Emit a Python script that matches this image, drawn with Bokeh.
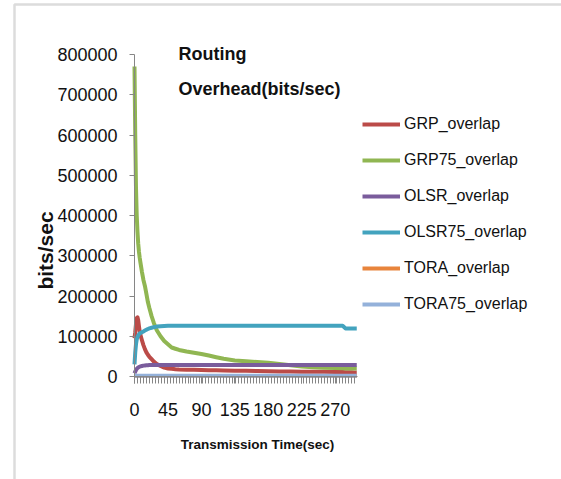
from bokeh.plotting import figure
from bokeh.models import (FixedTicker, NumeralTickFormatter, Legend, LegendItem,
                          Label, BoxAnnotation, Range1d)
from bokeh.embed import file_html
from bokeh.resources import INLINE

# ---- data ----
t = [0, 1, 2, 3, 4, 5, 6, 7, 8, 10, 12, 14, 16, 18, 20, 23, 26, 30, 35, 40, 45, 50,
     55, 60, 70, 80, 90, 100, 110, 120, 135, 150, 165, 180, 195, 210, 225, 240, 255,
     270, 280, 284, 288, 292, 296, 299]

grp = [95000, 110000, 130000, 145000, 147000, 140000, 125000, 112000, 103000, 90000,
       78000, 68000, 60000, 54000, 49000, 43000, 37000, 31000, 26000, 22000, 20000,
       19000, 18000, 17500, 17000, 16500, 16000, 15500, 15500, 15000, 14500, 14000,
       13500, 13000, 12500, 12500, 12000, 12000, 11500, 11000, 11000, 10500, 10500,
       10500, 10000, 10000]

grp75 = [770000, 600000, 470000, 400000, 360000, 330000, 310000, 295000, 283000,
         260000, 240000, 225000, 205000, 185000, 170000, 150000, 133000, 115000,
         100000, 88000, 80000, 72000, 69000, 66000, 62000, 59000, 56000, 52000, 48000,
         44000, 40000, 38000, 36000, 34000, 31000, 28000, 25000, 23000, 22000, 21000,
         20500, 20000, 20000, 20000, 20000, 20000]

olsr = [8000, 12000, 16000, 19000, 21000, 22500, 23500, 24500, 25000, 26000, 27000,
        27500, 28000, 28000, 28500, 28500, 28500, 28500, 28500, 28500, 28500, 28500,
        28500, 28500, 28500, 28500, 28500, 28500, 28500, 28500, 28500, 28500, 28500,
        28500, 28500, 28500, 28500, 28500, 28500, 28500, 28500, 28500, 28500, 28500,
        28500, 28500]

olsr75 = [30000, 60000, 80000, 92000, 98000, 102000, 105000, 107000, 108000, 110000,
          112000, 114000, 116000, 118000, 119500, 121000, 122500, 124000, 125000,
          125500, 126000, 126000, 126000, 126000, 126000, 126000, 126000, 126000,
          126000, 126000, 126000, 126000, 126000, 126000, 126000, 126000, 126000,
          126000, 126000, 126000, 126000, 119500, 119000, 119000, 119000, 119000]

tora = [1000] * len(t)
tora75 = [2000] * len(t)

series_names = ["GRP_overlap", "GRP75_overlap", "OLSR_overlap", "OLSR75_overlap",
                "TORA_overlap", "TORA75_overlap"]
series_values = [grp, grp75, olsr, olsr75, tora, tora75]
series_colors = ["#BB4B48", "#90B652", "#7A5C9C", "#43A3BE", "#E8843C", "#94B1DA"]

x_tick_values = [0, 45, 90, 135, 180, 225, 270]
y_tick_values = [0, 100000, 200000, 300000, 400000, 500000, 600000, 700000, 800000]

FONT = "Liberation Sans"
TEXT = "#111111"

# ---- layout: frame covers the whole canvas, axes sit at x=0 / y=0 ----
W, H = 561, 479
X0_PX, X_PX_PER = 134, 223 / 300.0       # page x of t=0, pixels per second
Y0_PX, Y_PX_PER = 376, 322 / 800000.0    # page y of 0, pixels per bit/s


def dx(px):
    return (px - X0_PX) / X_PX_PER


def dy(py):
    return (Y0_PX - py) / Y_PX_PER


p = figure(width=W, height=H, output_backend="svg", toolbar_location=None,
           x_range=Range1d(dx(0), dx(W)), y_range=Range1d(dy(H), dy(0)),
           min_border=0)
p.outline_line_color = None
p.grid.visible = False
p.background_fill_color = "white"
p.border_fill_color = "white"

# outer frame of the picture (only top and left edges are visible)
p.add_layout(BoxAnnotation(left=dx(14), right=dx(W + 50), top=dy(4), bottom=dy(H + 50),
                           fill_alpha=0, line_color="#8C8C8C", line_width=2.5,
                           level="underlay"))

items = []
for name, vals, col in zip(series_names, series_values, series_colors):
    r = p.line(t, vals, line_color=col, line_width=4, line_join="round")
    items.append(LegendItem(label=name, renderers=[r]))

# axes
axis_gray = "#868686"
xa = p.xaxis[0]
xa.fixed_location = 0
xa.bounds = (0, 300)
xa.ticker = FixedTicker(ticks=x_tick_values, minor_ticks=list(range(0, 300, 4)))
xa.axis_line_color = axis_gray
xa.major_tick_line_color = axis_gray
xa.minor_tick_line_color = axis_gray
xa.major_tick_in = 0
xa.major_tick_out = 7
xa.minor_tick_in = 0
xa.minor_tick_out = 7
xa.major_label_standoff = 19
xa.major_label_text_font = FONT
xa.major_label_text_font_size = "18px"
xa.major_label_text_color = TEXT

ya = p.yaxis[0]
ya.fixed_location = 0
ya.bounds = (0, 800000)
ya.ticker = FixedTicker(ticks=y_tick_values)
ya.formatter = NumeralTickFormatter(format="0")
ya.axis_line_color = axis_gray
ya.major_tick_line_color = axis_gray
ya.minor_tick_line_color = None
ya.major_tick_in = 0
ya.major_tick_out = 5
ya.major_label_standoff = 12
ya.major_label_text_font = FONT
ya.major_label_text_font_size = "18px"
ya.major_label_text_color = TEXT

# legend (location measured from the bottom-left of the canvas)
legend = Legend(items=items, location=(362, H - 322), orientation="vertical",
                border_line_color=None, background_fill_alpha=0,
                padding=0, margin=0, spacing=0, glyph_width=38, glyph_height=36,
                label_height=36, label_standoff=4,
                label_text_font=FONT, label_text_font_size="16px",
                label_text_color=TEXT)
p.add_layout(legend, "center")

# texts
p.add_layout(Label(x=dx(178), y=dy(53), text="Routing", text_font=FONT,
                   text_font_style="bold", text_font_size="18px", text_color=TEXT,
                   text_baseline="middle", text_align="left"))
p.add_layout(Label(x=dx(178), y=dy(88), text="Overhead(bits/sec)", text_font=FONT,
                   text_font_style="bold", text_font_size="18px", text_color=TEXT,
                   text_baseline="middle", text_align="left"))
p.add_layout(Label(x=dx(45), y=dy(250), text="bits/sec", text_font=FONT,
                   text_font_style="bold", text_font_size="21px", angle=1.5708,
                   text_color=TEXT, text_baseline="middle", text_align="center"))
p.add_layout(Label(x=dx(257), y=dy(444), text="Transmission Time(sec)", text_font=FONT,
                   text_font_style="bold", text_font_size="13.5px", text_color=TEXT,
                   text_baseline="middle", text_align="center"))

open("out.html", "w").write(file_html(p, INLINE))
